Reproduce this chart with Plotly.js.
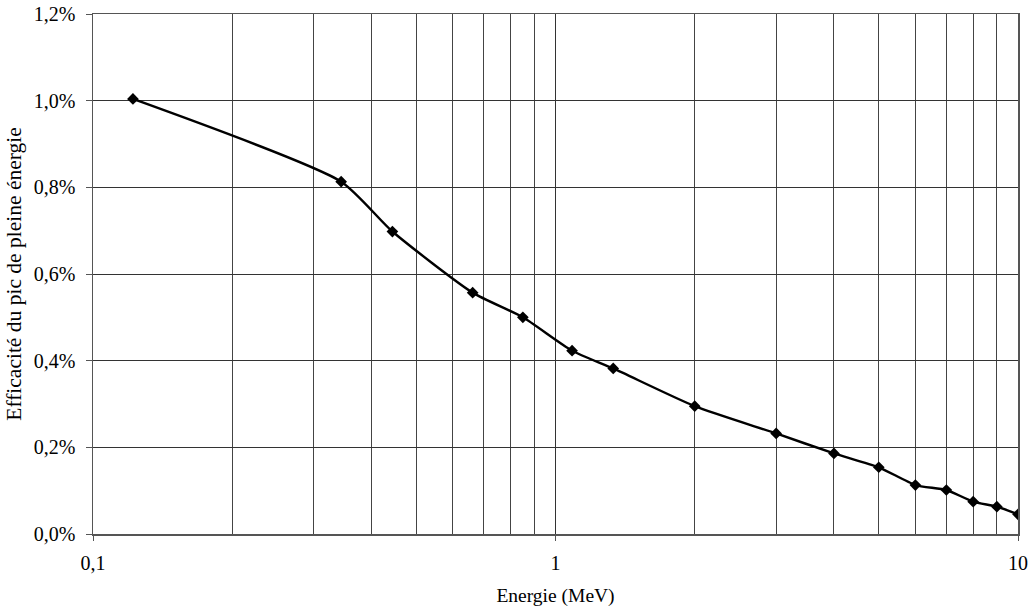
<!DOCTYPE html>
<html>
<head>
<meta charset="utf-8">
<script src="https://cdn.plot.ly/plotly-3.0.1.min.js"></script>
<style>html,body{margin:0;padding:0;background:#fff;}#chart{width:1030px;height:607px;}</style>
</head>
<body>
<div id="chart"></div>
<script>
// Energy (MeV)
const energies = [0.122, 0.344, 0.444, 0.662, 0.85, 1.086, 1.333, 2, 3, 4, 5, 6, 7, 8, 9, 10];
// Full-energy peak efficiency (%)
const efficiencies = [1.004, 0.813, 0.698, 0.557, 0.500, 0.423, 0.382, 0.295, 0.232, 0.186, 0.154, 0.113, 0.1015, 0.0746, 0.063, 0.0454];
const xMajorVals = [0.1, 1, 10];
const xMajorText = ['0,1', '1', '10'];
const xMinorVals = [0.2,0.3,0.4,0.5,0.6,0.7,0.8,0.9,2,3,4,5,6,7,8,9];
const yTickVals = [0, 0.2, 0.4, 0.6, 0.8, 1.0, 1.2];
const yTickText = ['0,0%', '0,2%', '0,4%', '0,6%', '0,8%', '1,0%', '1,2%'];

const FAM = '"Liberation Serif", "Times New Roman", serif';
const FS = 20;

Plotly.newPlot('chart', [{
  x: energies,
  y: efficiencies,
  type: 'scatter',
  mode: 'lines+markers',
  line: {color: '#000', width: 2.4, shape: 'spline', smoothing: 0.6},
  marker: {symbol: 'diamond', size: 9, color: '#000'},
  hoverinfo: 'x+y'
}], {
  width: 1030, height: 607,
  margin: {l: 92.5, r: 11.5, t: 14, b: 73},
  paper_bgcolor: '#fff', plot_bgcolor: '#fff',
  showlegend: false,
  font: {family: FAM, size: FS, color: '#000'},
  xaxis: {
    type: 'log',
    range: [-1, 1],
    tickmode: 'array',
    tickvals: xMajorVals,
    ticktext: xMajorText,
    ticks: 'outside', ticklen: 5, tickcolor: '#555',
    showgrid: true, gridcolor: '#333', gridwidth: 1,
    minor: {tickmode: 'array', tickvals: xMinorVals, showgrid: true, gridcolor: '#444', gridwidth: 1, ticks: ''},
    showline: true, linecolor: '#555', linewidth: 1.5, mirror: true,
    zeroline: false,
    tickfont: {family: FAM, size: FS, color: '#000'},
    ticklabelstandoff: 5,
    title: {text: 'Energie (MeV)', font: {family: FAM, size: 19.5, color: '#000'}, standoff: 16}
  },
  yaxis: {
    range: [0, 1.2],
    tickmode: 'array',
    tickvals: yTickVals,
    ticktext: yTickText,
    ticks: 'outside', ticklen: 6, tickcolor: '#555',
    showgrid: true, gridcolor: '#333', gridwidth: 1,
    showline: true, linecolor: '#555', linewidth: 1.5, mirror: true,
    zeroline: false,
    tickfont: {family: FAM, size: FS, color: '#000'},
    ticklabelstandoff: 6,
    title: {text: 'Efficacité du pic de pleine énergie', font: {family: FAM, size: 21.5, color: '#000'}, standoff: 6}
  }
}, {displayModeBar: false, staticPlot: true});
</script>
</body>
</html>
